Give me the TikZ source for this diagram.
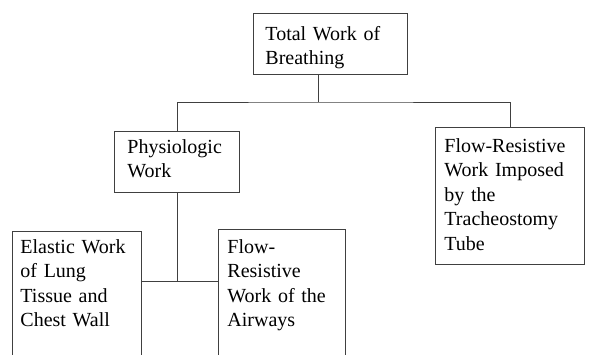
\documentclass[tikz,border=0pt]{standalone}
\usepackage{fontspec}
\setmainfont{Liberation Serif}
\usetikzlibrary{calc}
\tikzset{
  wbox/.style={draw=black!75, line width=0.9pt, anchor=north west, align=left,
    inner ysep=0pt, font=\fontsize{20}{24.5}\selectfont},
  conn/.style={draw=black!75, line width=0.9pt}
}
\begin{document}
\begin{tikzpicture}[x=1pt,y=-1pt]
\useasboundingbox (0,0) rectangle (595,354);
\node[wbox, inner xsep=12pt, text width=130pt, text height=27pt, text depth=34pt] (top) at (253,13)
  {\mbox{Total Work of}\\Breathing};
\node[wbox, inner xsep=13pt, text width=99pt, text height=22pt, text depth=39pt] (phys) at (114,131)
  {Physiologic\\Work};
\node[wbox, inner xsep=9pt, text width=131pt, text height=25pt, text depth=112pt] (tube) at (435,127)
  {\mbox{Flow-Resistive}\\\mbox{Work Imposed}\\by the\\Tracheostomy\\Tube};
\node[wbox, inner xsep=8pt, text width=113pt, text height=22pt, text depth=160pt] (elastic) at (12,231)
  {\mbox{Elastic Work}\\of Lung\\\mbox{Tissue and}\\\mbox{Chest Wall}};
\node[wbox, inner xsep=9pt, text width=109pt, text height=24pt, text depth=160pt] (airway) at (218,229)
  {Flow-\\Resistive\\\mbox{Work of the}\\Airways};
\coordinate (tdrop) at ($(top.south west)+(65,0)$);
\coordinate (bus) at (318,102);
\draw[conn] (tdrop) -- (bus);
\draw[conn] (phys.north) |- (bus) -| (tube.north);
\coordinate (pj) at (phys.south |- 0,281);
\draw[conn] (phys.south) -- (pj);
\draw[conn] (elastic.east |- pj) -- (airway.west |- pj);
\end{tikzpicture}
\end{document}
